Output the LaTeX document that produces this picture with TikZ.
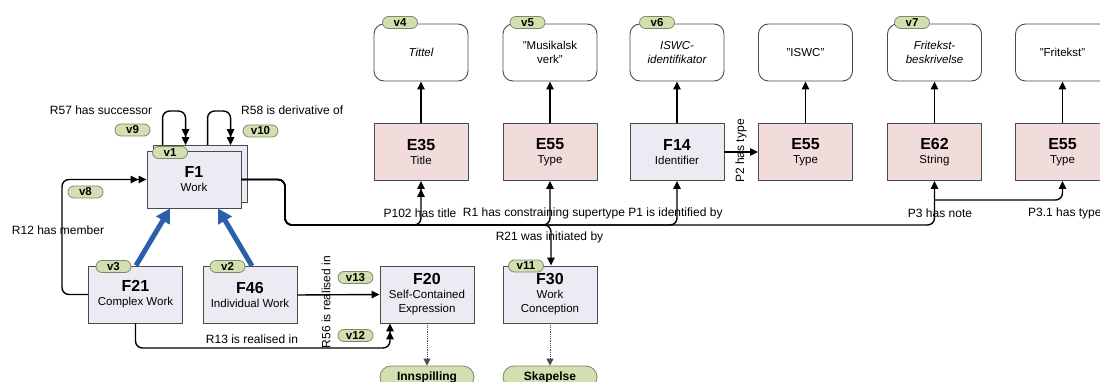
\documentclass[tikz,border=0pt]{standalone}
\usepackage{fontspec}
\setmainfont{Liberation Sans}
\usetikzlibrary{arrows.meta,calc}

\definecolor{epink}{HTML}{F2DCDB}
\definecolor{flav}{HTML}{ECEAF2}
\definecolor{pillgreen}{HTML}{D2DFB0}
\definecolor{pillline}{HTML}{7C8A66}
\definecolor{boxline}{HTML}{4A4A4A}
\definecolor{bluearr}{HTML}{2B5FA9}

\begin{document}
\begin{tikzpicture}[x=1pt,y=-1pt,
  cls/.style={draw=boxline, line width=0.9pt, minimum width=94pt, minimum height=57pt,
              inner sep=0pt, align=center, font=\fontsize{11.5}{14}\selectfont},
  ecls/.style={cls, fill=epink},
  fcls/.style={cls, fill=flav},
  val/.style={draw=boxline, line width=0.9pt, fill=white, rounded corners=10pt,
              minimum width=94pt, minimum height=57pt, inner sep=0pt, align=center,
              font=\fontsize{11.5}{14.5}\selectfont},
  pill/.style={draw=pillline, line width=0.8pt, fill=pillgreen, rounded corners=6pt,
               minimum width=35pt, minimum height=12pt, inner sep=0pt,
               font=\bfseries\fontsize{11.5}{11.5}\selectfont},
  bigpill/.style={pill, minimum width=94pt, minimum height=22pt, rounded corners=11pt,
               font=\bfseries\fontsize{12}{12}\selectfont},
  conn/.style={line width=1.4pt, rounded corners=7pt},
  one/.style={-{Triangle[length=8pt,width=7.5pt]}},
  two/.style={-{Triangle[length=8pt,width=7.5pt]Triangle[length=8pt,width=7.5pt]}},
  dots/.style={densely dotted, line width=0.8pt, draw=black!70, -{Triangle[length=7pt,width=7pt]}},
  isa/.style={line width=5pt, draw=bluearr, -{Triangle[length=14pt,width=15pt]}},
  lbl/.style={font=\fontsize{12}{14}\selectfont, inner sep=1pt}]
\newcommand{\cc}[1]{{\fontsize{16}{18}\bfseries #1}}
\newcommand{\qt}{\symbol{34}}

\path[use as bounding box] (0,0) rectangle (1100,382);

% work classes
\node[fcls] (f1b) at (200,174) {};
\node[fcls] (f1) at (194,179.5) {\cc{F1}\\Work};
\node[fcls] (f21) at (135.5,294.5) {\cc{F21}\\Complex Work};
\node[fcls] (f46) at (250,295) {\cc{F46}\\Individual Work};
\node[fcls] (f20) at (427,294.5) {\cc{F20}\\Self-Contained\\Expression};
\node[fcls] (f30) at (550,294.5) {\cc{F30}\\Work\\Conception};

% attribute classes
\node[ecls] (e35) at (421,152) {\cc{E35}\\Title};
\node[ecls] (e55a) at (550,152) {\cc{E55}\\Type};
\node[fcls] (f14) at (677,152) {\cc{F14}\\Identifier};
\node[ecls] (e55b) at (805.5,152) {\cc{E55}\\Type};
\node[ecls] (e62) at (934.5,152) {\cc{E62}\\String};
\node[ecls] (e55c) at (1062.5,152) {\cc{E55}\\Type};

% literal values
\node[val] (t1) at (421,52.5) {\itshape Tittel};
\node[val] (t2) at (550,52.5) {\qt Musikalsk\\verk\qt};
\node[val] (t3) at (677,52.5) {\itshape ISWC-\\\itshape identifikator};
\node[val] (t4) at (805.5,52.5) {\qt ISWC\qt};
\node[val] (t5) at (934.5,52.5) {\itshape Fritekst-\\\itshape beskrivelse};
\node[val] (t6) at (1062.5,52.5) {\qt Fritekst\qt};

% value arrows
\foreach \a/\b in {e35/t1,e55a/t2,f14/t3,e55b/t4,e62/t5,e55c/t6}
  \draw[line width=1.4pt, one] (\a.north) -- (\b.south);

% self loops on F1
\draw[conn, two] ($(f1b.north west)+(10,0)$) -- ++(0,-34) -- ++(23,0) -- ($(f1b.north west)+(33,0)$);
\draw[conn, two] ($(f1b.north west)+(55,0)$) -- ++(0,-34) -- ++(23,0) -- ($(f1b.north west)+(78,0)$);

% R12 has member
\draw[conn, two] (f21.west) -- (62,294.5) -- (62,179.5) -- (f1.west);

% trunk from F1 and its branches
\coordinate (tr1) at (285,179.5);
\coordinate (tr2) at (285,225);
\draw[conn, two] (f1.east) -- (tr1) -- (tr2) -- (421,225) -- (e35.south);
\draw[conn, one] (f1.east) -- (tr1) -- (tr2) -- (550,225) -- (e55a.south);
\draw[conn, one] (f1.east) -- (tr1) -- (tr2) -- (677,225) -- (f14.south);
\draw[conn, one] (f1.east) -- (tr1) -- (tr2) -- (934.5,225) -- (e62.south);
\draw[conn, one] (f1.east) -- (tr1) -- (tr2) -- (551,225) -- (f30.north -| 551,0);
\coordinate (p3) at (934.5,200);
\draw[conn, one] (p3) -- (1062.5,200) -- (e55c.south);

% P2 has type
\draw[line width=1.4pt, one] (f14.east) -- (e55b.west);

% realisation
\draw[line width=1.4pt, one] (f46.east) -- (f20.west);
\draw[conn, two] (f21.south) -- (135.5,348) -- (390,348) -- (f20.south -| 390,0);

% specialisation
\draw[isa] (136,265.5) -- ($(f1.south)+(-24,0)$);
\draw[isa] (252,266) -- ($(f1.south)+(24,0)$);

% event nodes
\node[bigpill] (inn) at (427,377) {Innspilling};
\node[bigpill] (skap) at (550,377) {Skapelse};
\draw[dots] (f20.south) -- (inn.north);
\draw[dots] (f30.south) -- (skap.north);

% variable tags
\node[pill] (v1) at (170,152.5) {v1};
\node[pill] (v2) at (227.5,266.5) {v2};
\node[pill] (v3) at (113.5,266.5) {v3};
\node[pill] (v4) at (400,22.5) {v4};
\node[pill] (v5) at (527.5,22.5) {v5};
\node[pill] (v6) at (657,22.5) {v6};
\node[pill] (v7) at (912,22.5) {v7};
\node[pill] (v8) at (85.5,192) {v8};
\node[pill] (v9) at (132.5,130) {v9};
\node[pill] (v10) at (260.5,131) {v10};
\node[pill] (v11) at (526,266) {v11};
\node[pill] (v12) at (355.5,335.5) {v12};
\node[pill] (v13) at (355.5,277.5) {v13};

% property labels
\node[lbl] (l57) at (101,110) {R57 has successor};
\node[lbl, anchor=west] (l58) at (240,110) {R58 is derivative of};
\node[lbl] (l12) at (58,230) {R12 has member};
\node[lbl] (l13) at (252,339) {R13 is realised in};
\node[lbl, rotate=90] (l56) at (326,302) {R56 is realised in};
\node[lbl] (l102) at (420,213) {P102 has title};
\node[lbl] (lr1) at (544,213) {R1 has constraining supertype};
\node[lbl] (lp1) at (675.5,213) {P1 is identified by};
\node[lbl] (l21) at (549.5,237.5) {R21 was initiated by};
\node[lbl, rotate=90] (lp2) at (741,151) {P2 has type};
\node[lbl] (lp3) at (940,213) {P3 has note};
\node[lbl, anchor=west] (lp31) at (1027,213) {P3.1 has type};
\end{tikzpicture}
\end{document}
